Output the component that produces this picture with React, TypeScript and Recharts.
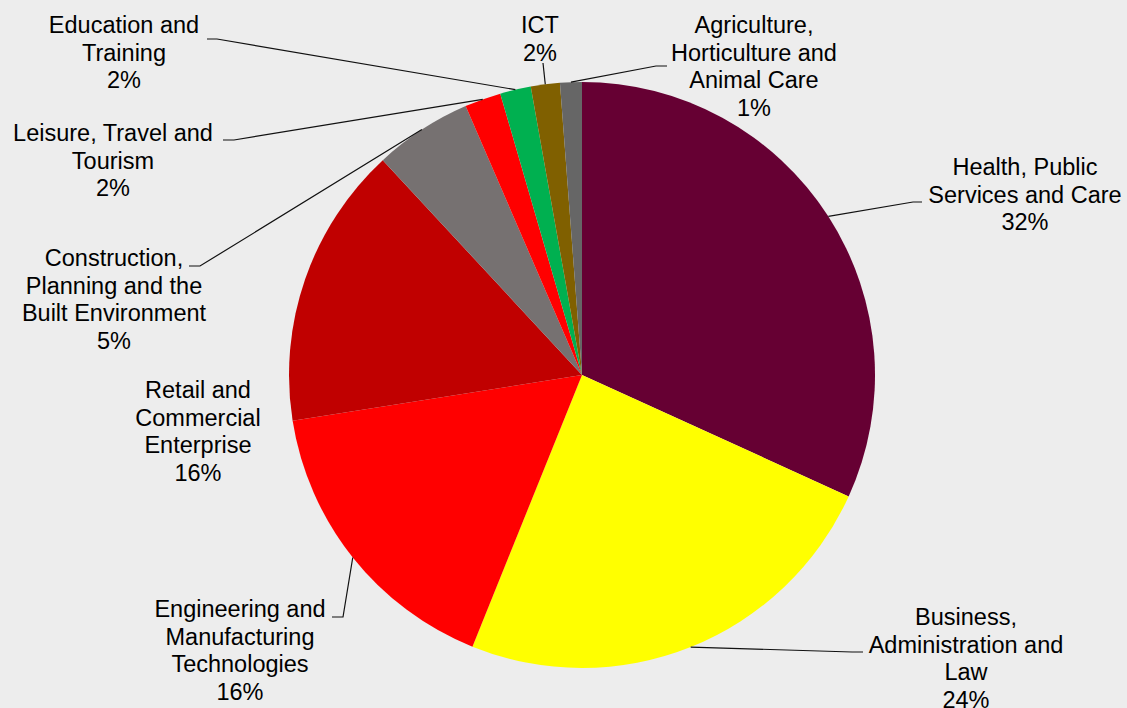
import { PieChart, Pie, Cell } from 'recharts';

// sector shares, clockwise from 12 o'clock
const CATEGORIES = [
  'Health, Public Services and Care',
  'Business, Administration and Law',
  'Engineering and Manufacturing Technologies',
  'Retail and Commercial Enterprise',
  'Construction, Planning and the Built Environment',
  'Leisure, Travel and Tourism',
  'Education and Training',
  'ICT',
  'Agriculture, Horticulture and Animal Care',
];
const VALUES = [31.8, 24.3, 16.4, 15.6, 5.4, 2.0, 1.7, 1.6, 1.2];
const COLORS = ['#660033', '#FFFF00', '#FF0000', '#C00000', '#767171', '#FF0000', '#00B050', '#806000', '#666666'];
const LABEL_LINES = [
  ['Health, Public', 'Services and Care'],
  ['Business,', 'Administration and', 'Law'],
  ['Engineering and', 'Manufacturing', 'Technologies'],
  ['Retail and', 'Commercial', 'Enterprise'],
  ['Construction,', 'Planning and the', 'Built Environment'],
  ['Leisure, Travel and', 'Tourism'],
  ['Education and', 'Training'],
  ['ICT'],
  ['Agriculture,', 'Horticulture and', 'Animal Care'],
];

// label placement relative to the pie centre: text centre / first baseline, leader elbow
const LABEL_LAYOUT = [
  { tx: 443, ty: -200, ex: 331, ey: -173, hx: 340 },
  { tx: 384, ty: 250, ex: 270, ey: 277, hx: 281 },
  { tx: -342, ty: 242, ex: -239, ey: 242, hx: -250 },
  { tx: -384, ty: 23, ex: null, ey: null, hx: null },
  { tx: -468, ty: -109, ex: -382, ey: -109, hx: -393 },
  { tx: -469, ty: -234, ex: -348, ey: -235, hx: -359 },
  { tx: -458, ty: -342, ex: -365, ey: -336, hx: -375 },
  { tx: -42, ty: -342, ex: -39, ey: -312, hx: -39 },
  { tx: 172, ty: -342, ex: 74, ey: -309, hx: 85 },
];

const data = CATEGORIES.map((name, i) => ({ name, value: VALUES[i] }));

const RAD = Math.PI / 180;
const LINE_H = 27.6;

const renderLabel = (props: any) => {
  const { cx, cy, midAngle, outerRadius, percent, index } = props;
  const lay = LABEL_LAYOUT[index];
  const lines = [...LABEL_LINES[index], `${Math.round(percent * 100)}%`];
  const sx = cx + outerRadius * Math.cos(-midAngle * RAD);
  const sy = cy + outerRadius * Math.sin(-midAngle * RAD);
  return (
    <g key={`lbl-${index}`}>
      {lay.ex !== null && (
        <polyline
          points={`${sx},${sy} ${cx + lay.ex},${cy + lay.ey} ${cx + lay.hx},${cy + lay.ey}`}
          fill="none"
          stroke="#111"
          strokeWidth={1.2}
        />
      )}
      <text
        x={cx + lay.tx}
        y={cy + lay.ty}
        textAnchor="middle"
        fill="#000"
        fontSize={23.5}
        fontFamily="'Liberation Sans', Arial, sans-serif"
      >
        {lines.map((l, k) => (
          <tspan key={k} x={cx + lay.tx} y={cy + lay.ty + k * LINE_H}>
            {l}
          </tspan>
        ))}
      </text>
    </g>
  );
};

export default function App() {
  return (
    <div style={{ position: 'absolute', left: 0, top: 0, width: 1127, height: 708, background: '#EDEDED' }}>
      <PieChart width={1127} height={708} margin={{ top: 0, right: 0, bottom: 0, left: 0 }}>
        <Pie
          data={data}
          dataKey="value"
          nameKey="name"
          cx={582}
          cy={375}
          outerRadius={293}
          startAngle={90}
          endAngle={-270}
          stroke="none"
          label={renderLabel}
          labelLine={false}
          isAnimationActive={false}
        >
          {data.map((entry, index) => (
            <Cell key={`cell-${index}`} fill={COLORS[index]} />
          ))}
        </Pie>
      </PieChart>
    </div>
  );
}
